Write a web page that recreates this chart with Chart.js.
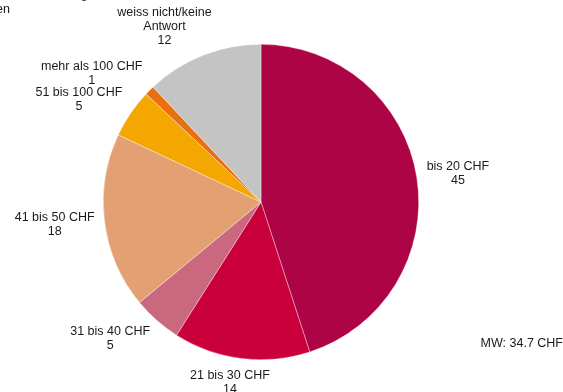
<!DOCTYPE html>
<html>
<head>
<meta charset="utf-8">
<script src="https://cdn.jsdelivr.net/npm/chart.js@4"></script>
<style>
  html, body { margin: 0; padding: 0; background: #fff; }
  #wrap { width: 563px; height: 392px; position: relative; }
</style>
</head>
<body>
<div id="wrap"><canvas id="pieCanvas"></canvas></div>
<script>
const categories = ['bis 20 CHF', '21 bis 30 CHF', '31 bis 40 CHF', '41 bis 50 CHF', '51 bis 100 CHF', 'mehr als 100 CHF', 'weiss nicht/keine Antwort'];
const labelLines = [['bis 20 CHF'], ['21 bis 30 CHF'], ['31 bis 40 CHF'], ['41 bis 50 CHF'], ['51 bis 100 CHF'], ['mehr als 100 CHF'], ['weiss nicht/keine', 'Antwort']];
const values = [45, 14, 5, 18, 5, 1, 12];
const colors = ['#ad0446', '#c9003c', '#c9687f', '#e2a073', '#f4a700', '#e8700f', '#c4c4c4'];
const meanText = 'MW: 34.7 CHF';

const FONT = '12.5px "Liberation Sans", Arial, sans-serif';

const clamp = v => Math.max(-1, Math.min(1, v));

// labels outside the pie, like the office chart
const outsideLabels = {
  id: 'outsideLabels',
  afterDraw(chart) {
    const ctx = chart.ctx;
    const meta = chart.getDatasetMeta(0);
    ctx.save();
    ctx.font = FONT;
    ctx.fillStyle = '#1a1a1a';
    ctx.textAlign = 'center';
    ctx.textBaseline = 'middle';
    const lh = 14;
    meta.data.forEach((arc, i) => {
      const lines = labelLines[i].concat([String(values[i])]);
      const w = Math.max(...lines.map(l => ctx.measureText(l).width));
      const h = lines.length * lh;
      const mid = (arc.startAngle + arc.endAngle) / 2;
      const dx = Math.cos(mid), dy = Math.sin(mid);
      const r = arc.outerRadius + 10;
      const px = arc.x + dx * r, py = arc.y + dy * r;
      const cx = px + clamp(dx * 2) * w / 2;
      const cy = py + dy * h / 2;
      lines.forEach((l, k) => {
        ctx.fillText(l, cx, cy - h / 2 + lh / 2 + k * lh);
      });
    });
    ctx.textAlign = 'right';
    ctx.fillText(meanText, 563, 344);
    // cut-off note in the top left corner
    ctx.textBaseline = 'alphabetic';
    ctx.fillText('Ausgaben in CHF, Angabe,', 112, -2);
    ctx.textBaseline = 'middle';
    ctx.fillText('Personen', 10, 10);
    ctx.restore();
  }
};

new Chart(document.getElementById('pieCanvas'), {
  type: 'pie',
  data: {
    labels: categories,
    datasets: [{
      data: values,
      backgroundColor: colors,
      borderColor: 'rgba(255,255,255,0.6)',
      borderWidth: 0.6
    }]
  },
  options: {
    responsive: true,
    maintainAspectRatio: false,
    animation: false,
    layout: { padding: { left: 103, right: 144, top: 44, bottom: 32 } },
    plugins: {
      legend: { display: false },
      tooltip: { enabled: false }
    }
  },
  plugins: [outsideLabels]
});
</script>
</body>
</html>
